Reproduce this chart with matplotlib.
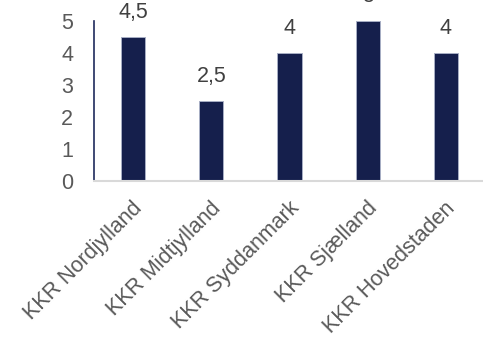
import matplotlib
matplotlib.use("Agg")
import matplotlib.pyplot as plt
from matplotlib.transforms import ScaledTranslation

categories = ["KKR Nordjylland", "KKR Midtjylland", "KKR Syddanmark", "KKR Sjælland", "KKR Hovedstaden"]
values = [4.5, 2.5, 4, 5, 4]
yticks = [0, 1, 2, 3, 4, 5]

plt.rcParams['font.family'] = ['Liberation Sans', 'DejaVu Sans']

fig = plt.figure(figsize=(4.83, 3.41), dpi=100)
W, H = 483, 341
x0, x1 = 94, 485
y0, y1 = 181, 21  # pixel rows of value 0 and 5
ax = fig.add_axes([x0 / W, 1 - y0 / H, (x1 - x0) / W, (y0 - y1) / H])

bar_color = "#151F4C"
text_color = "#595959"
xs = range(len(categories))
bars = ax.bar(xs, values, width=0.31, color=bar_color, edgecolor="#A7AEC4", linewidth=0.7)

def fmt(v):
    s = f"{v:g}"
    return s.replace(".", ",")

for x, v in zip(xs, values):
    ax.annotate(fmt(v), (x, v), xytext=(0, 13.5), textcoords="offset points",
                ha="center", va="baseline", fontsize=15.5, color="#404040",
                annotation_clip=False)

ax.set_xlim(-0.5, len(categories) - 0.5)
ax.set_ylim(0, 5)
ax.set_yticks(yticks)
ax.set_yticklabels([str(t) for t in yticks])
ax.tick_params(axis="y", length=0, pad=15, labelsize=15.5, labelcolor=text_color)
ax.tick_params(axis="x", length=0, pad=12, labelsize=15.5, labelcolor=text_color)
ax.set_xticks(list(xs))
ax.set_xticklabels(categories, rotation=45, ha="right", va="top", rotation_mode="anchor")
off = ScaledTranslation(-1 / 100, 0, fig.dpi_scale_trans)
for lab in ax.get_xticklabels():
    lab.set_transform(lab.get_transform() + off)

for s in ["top", "right"]:
    ax.spines[s].set_visible(False)
ax.spines["left"].set_color("#1F2A5C")
ax.spines["left"].set_linewidth(1.2)
ax.spines["bottom"].set_color("#D9D9D9")
ax.spines["bottom"].set_linewidth(1.5)
ax.patch.set_visible(False)

fig.savefig("out.png", dpi=100)
